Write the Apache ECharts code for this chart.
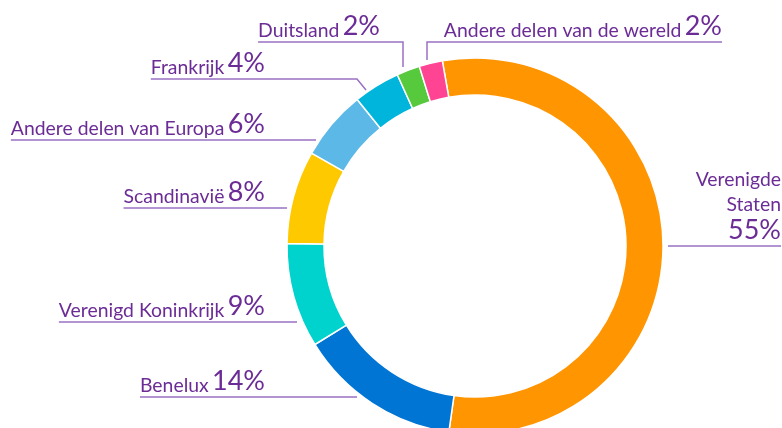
<!DOCTYPE html>
<html>
<head>
<meta charset="utf-8">
<script src="https://cdn.jsdelivr.net/npm/echarts@6/dist/echarts.min.js"></script>
<style>
  html, body { margin: 0; padding: 0; background: #fff; }
  #chart { width: 782px; height: 428px; }
</style>
</head>
<body>
<div id="chart"></div>
<script>
// regio's, met de klok mee vanaf de bovenkant
const names = [
  'Verenigde Staten',
  'Benelux',
  'Verenigd Koninkrijk',
  'Scandinavië',
  'Andere delen van Europa',
  'Frankrijk',
  'Duitsland',
  'Andere delen van de wereld',
]
const shares = [55, 14, 9, 8, 6, 4, 2, 2]
const sliceColors = ['#FF9500', '#0075D4', '#00D3CD', '#FFC900', '#5CB9E7', '#00B5DC', '#56C93D', '#FF4494']

// plek van de labels: rechterkant tekst, hoogte van de onderstreping en het stuk lijn naar de ring
const labelSpots = [
  { right: 781, lineY: 246, toRing: [[668, 246], [668, 246]], toLeft: false },
  { right: 265, lineY: 397, toRing: [[357, 397], [357, 397]] },
  { right: 265, lineY: 322, toRing: [[297, 322], [297, 322]] },
  { right: 265, lineY: 208, toRing: [[287, 208], [287, 208]] },
  { right: 265, lineY: 140, toRing: [[316, 140], [316, 140]] },
  { right: 265, lineY: 79, toRing: [[366, 90], [357, 79]] },
  { right: 380, lineY: 42, toRing: [[403, 67], [403, 42]] },
  { right: 722, lineY: 42, toRing: [[427, 60], [427, 42]], toLeft: false },
]

const textColor = '#6B2C96'
const lineColor = '#9A70C4'

const chart = echarts.init(document.getElementById('chart'))

const data = names.map((name, i) => ({
  name,
  value: shares[i],
  itemStyle: { color: sliceColors[i] },
}))

const option = {
  animation: false,
  series: [
    {
      type: 'pie',
      center: [475, 246],
      radius: [151, 188],
      startAngle: 100,
      clockwise: true,
      avoidLabelOverlap: false,
      data,
      itemStyle: {
        borderColor: '#fff',
        borderWidth: 1.5,
      },
      label: {
        show: true,
        position: 'outside',
        formatter: (p) => {
          if (p.dataIndex === 0) {
            return '{n|Verenigde}\n{n|Staten}\n{p|' + p.value + '%}'
          }
          return '{n|' + p.name + '} {p|' + p.value + '%}'
        },
        rich: {
          n: {
            fontFamily: 'Lato',
            fontSize: 19.4,
            lineHeight: 25,
            color: textColor,
            verticalAlign: 'bottom',
          },
          p: {
            fontFamily: 'Lato',
            fontSize: 27,
            fontWeight: 'normal',
            lineHeight: 30,
            color: textColor,
            verticalAlign: 'bottom',
          },
        },
      },
      labelLine: {
        show: true,
        smooth: false,
        lineStyle: { color: lineColor, width: 1.5 },
      },
      labelLayout: (params) => {
        const spot = labelSpots[params.dataIndex]
        const w = params.labelRect.width
        const left = spot.right - w
        const end = spot.toLeft === false ? [spot.right, spot.lineY] : [left, spot.lineY]
        return {
          x: spot.right,
          y: spot.lineY - 2,
          align: 'right',
          verticalAlign: 'bottom',
          labelLinePoints: [spot.toRing[0], spot.toRing[1], end],
        }
      },
    },
  ],
}

chart.setOption(option)
</script>
</body>
</html>
